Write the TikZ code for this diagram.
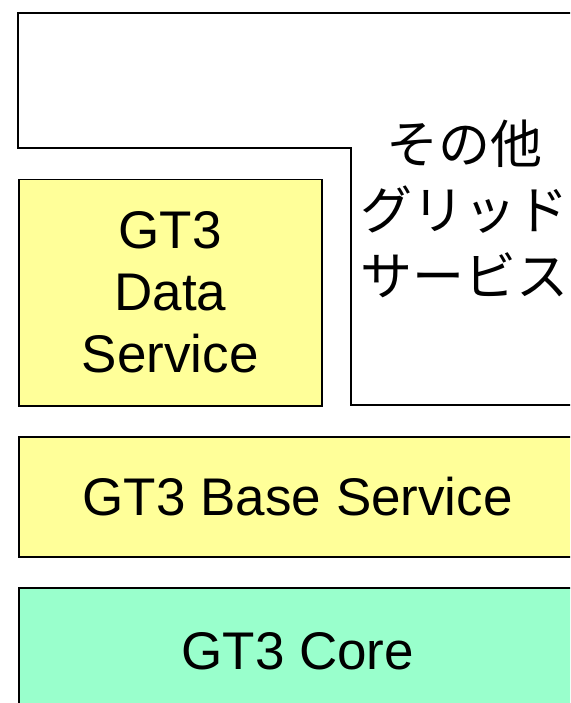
\documentclass[tikz,border=0pt]{standalone}
\usepackage{fontspec}
\setmainfont{Liberation Sans}
\newfontfamily\jpfont{Noto Sans CJK JP}
\definecolor{svcyellow}{HTML}{FFFF99}
\definecolor{coregreen}{HTML}{99FFCC}
\tikzset{layer/.style={draw,line width=1.5pt,rectangle,anchor=north west,inner sep=0pt,align=center,font=\fontsize{53}{62}\selectfont}}
\begin{document}
\begin{tikzpicture}[x=1pt,y=-1pt]
\useasboundingbox(0,0)rectangle(570,703);
\clip(0,0)rectangle(570,703);
\filldraw[fill=white,line width=1.5pt](600,13)--(18,13)--(18,148)--(351,148)--(351,405)--(600,405);
\node(other)[align=center,font=\jpfont\fontsize{52}{66}\selectfont]at(464,209){その他\\グリッド\\サービス};
\node(data)[layer,fill=svcyellow,minimum width=303pt,minimum height=226pt]at(18,179){GT3\\Data\\Service};
\node(base)[layer,fill=svcyellow,minimum width=558pt,minimum height=120pt]at(18,436){GT3 Base Service};
\node(core)[layer,fill=coregreen,minimum width=558pt,minimum height=126pt]at(18,587){GT3 Core};
\end{tikzpicture}
\end{document}
